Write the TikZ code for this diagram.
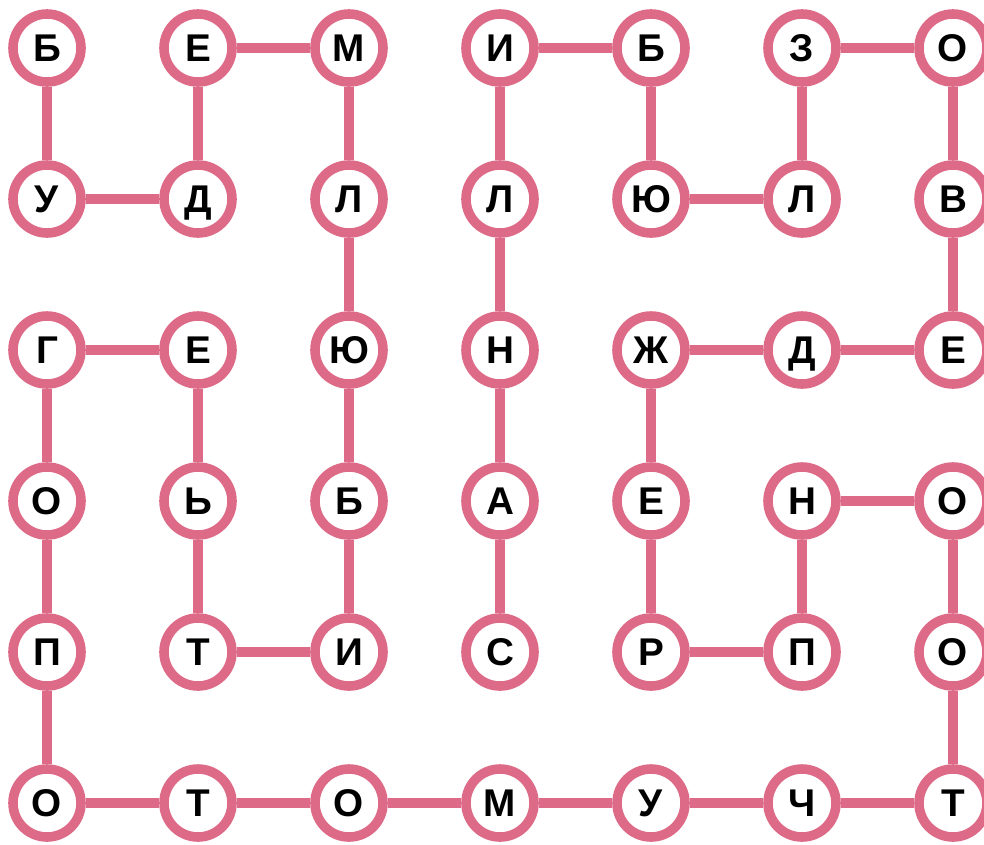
\documentclass[tikz,border=0pt]{standalone}
\usepackage{fontspec}
\setmainfont{Liberation Sans}
\definecolor{rosepink}{RGB}{221,106,135}

\begin{document}
\begin{tikzpicture}[x=0.025cm,y=-0.025cm,
  letterstyle/.style={circle,draw=rosepink,line width=6.8pt,fill=white,minimum size=1.7cm,inner sep=0pt,
    text height=19.5pt,text depth=0pt,font=\bfseries\fontsize{27.5}{27.5}\selectfont},
  linkstyle/.style={draw=rosepink,line width=6.9pt}]
  \useasboundingbox (0,0) rectangle (984,844);

  \foreach \row [count=\y from 0] in {{Б,Е,М,И,Б,З,О},{У,Д,Л,Л,Ю,Л,В},{Г,Е,Ю,Н,Ж,Д,Е},
                                     {О,Ь,Б,А,Е,Н,О},{П,Т,И,С,Р,П,О},{О,Т,О,М,У,Ч,Т}}
    \foreach \ch [count=\x from 0] in \row
       \node [letterstyle] (\x\y) at (47+151*\x,48+151*\y) {\ch};

  \foreach \n [remember=\n as \last (initially 00)] in {01,11,10,20,21,22,23,24,14,13,12,02,03,04,05,
      15,25,35,45,55,65,64,63,53,54,44,43,42,52,62,61,60,50,51,41,40,30,31,32,33,34}
    \draw [linkstyle] (\last)--(\n);

\end{tikzpicture}
\end{document}
